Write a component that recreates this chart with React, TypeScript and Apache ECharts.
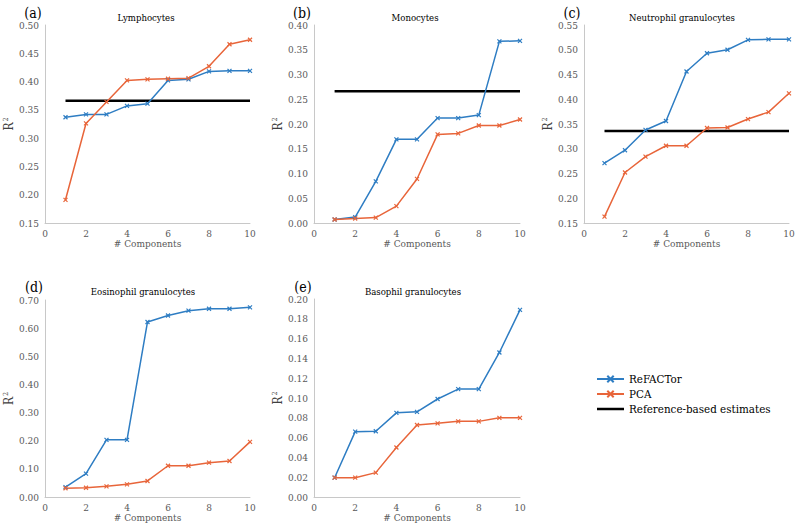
import React, { useEffect, useRef } from 'react';
import * as echarts from 'echarts';

const components = [1, 2, 3, 4, 5, 6, 7, 8, 9, 10];

const lymphRefactor = [0.337, 0.342, 0.342, 0.357, 0.361, 0.402, 0.404, 0.418, 0.419, 0.419];
const lymphPca = [0.191, 0.326, 0.364, 0.402, 0.404, 0.405, 0.406, 0.427, 0.466, 0.474];
const lymphReference = 0.366;

const monoRefactor = [0.007, 0.012, 0.084, 0.169, 0.169, 0.212, 0.212, 0.218, 0.367, 0.368];
const monoPca = [0.007, 0.009, 0.011, 0.034, 0.089, 0.179, 0.181, 0.197, 0.197, 0.209];
const monoReference = 0.266;

const neutroRefactor = [0.271, 0.297, 0.338, 0.356, 0.456, 0.493, 0.5, 0.52, 0.521, 0.521];
const neutroPca = [0.163, 0.252, 0.284, 0.306, 0.306, 0.342, 0.343, 0.36, 0.374, 0.412];
const neutroReference = 0.336;

const eosRefactor = [0.035, 0.083, 0.203, 0.203, 0.622, 0.645, 0.662, 0.669, 0.669, 0.674];
const eosPca = [0.031, 0.033, 0.038, 0.045, 0.057, 0.111, 0.111, 0.122, 0.128, 0.196];

const basoRefactor = [0.0195, 0.066, 0.0664, 0.085, 0.086, 0.099, 0.109, 0.109, 0.146, 0.189];
const basoPca = [0.0195, 0.0195, 0.0246, 0.05, 0.0727, 0.0744, 0.0764, 0.0764, 0.08, 0.08];

const panelLetters = ['(a)', '(b)', '(c)', '(d)', '(e)'];
const panelTitles = ['Lymphocytes', 'Monocytes', 'Neutrophil granulocytes', 'Eosinophil granulocytes', 'Basophil granulocytes'];
const yMins = [0.15, 0, 0.15, 0, 0];
const yMaxs = [0.5, 0.4, 0.55, 0.7, 0.2];
const yIntervals = [0.05, 0.05, 0.05, 0.1, 0.02];

const seriesNames = ['ReFACTor', 'PCA', 'Reference-based estimates'];

const FONT = "'DejaVu Serif Condensed', 'DejaVu Serif', serif";
const BLUE = '#2E7DC3';
const ORANGE = '#E8653A';
const MARK = 'path://M0,0L10,10M0,10L10,0';

const grids = [
  { left: 45, top: 25, width: 205, height: 198 },
  { left: 314, top: 25, width: 206, height: 198 },
  { left: 584, top: 25, width: 205, height: 198 },
  { left: 45, top: 300, width: 205, height: 197 },
  { left: 314, top: 299, width: 206, height: 198 },
];
const letterPos = [
  [33, 13], [302, 13], [572, 13], [34, 287], [303, 287],
];
const titlePos = [
  [146, 17], [415, 17], [682, 17], [143, 291], [413, 291],
];

export default function App() {
  const ref = useRef<HTMLDivElement>(null);
  useEffect(() => {
    document.body.style.margin = '0';
    const chart = echarts.init(ref.current!, null, { renderer: 'svg' });

    const refactorData = [lymphRefactor, monoRefactor, neutroRefactor, eosRefactor, basoRefactor];
    const pcaData = [lymphPca, monoPca, neutroPca, eosPca, basoPca];
    const referenceData: (number | null)[] = [lymphReference, monoReference, neutroReference, null, null];

    const xAxis: any[] = [];
    const yAxis: any[] = [];
    const series: any[] = [];
    const graphic: any[] = [];

    grids.forEach((g, i) => {
      xAxis.push({
        type: 'value',
        gridIndex: i,
        min: 0,
        max: 10,
        interval: 2,
        name: '# Components',
        nameLocation: 'middle',
        nameGap: 15,
        nameTextStyle: { fontFamily: FONT, fontSize: 10, color: '#595959' },
        axisLine: { show: true, lineStyle: { color: '#c8c8c8', width: 1 } },
        axisTick: { show: false },
        splitLine: { show: false },
        axisLabel: { fontFamily: FONT, fontSize: 10, color: '#595959', margin: 5 },
      });
      yAxis.push({
        type: 'value',
        gridIndex: i,
        min: yMins[i],
        max: yMaxs[i],
        interval: yIntervals[i],
        name: '{r|R}{s|2}',
        nameLocation: 'middle',
        nameGap: 21,
        nameRotate: 90,
        nameTextStyle: {
          rich: {
            r: { fontFamily: FONT, fontSize: 12, color: '#404040' },
            s: { fontFamily: FONT, fontSize: 7, color: '#404040', verticalAlign: 'top', padding: [0, 0, 6, 1] },
          },
        },
        axisLine: { show: true, lineStyle: { color: '#c8c8c8', width: 1 } },
        axisTick: { show: false },
        splitLine: { show: false },
        axisLabel: {
          fontFamily: FONT,
          fontSize: 10,
          color: '#595959',
          margin: 6,
          formatter: (v: number) => v.toFixed(2),
        },
      });
      series.push({
        name: seriesNames[0],
        type: 'line',
        xAxisIndex: i,
        yAxisIndex: i,
        data: components.map((c, k) => [c, refactorData[i][k]]),
        symbol: MARK,
        symbolSize: 4,
        lineStyle: { color: BLUE, width: 1.5 },
        itemStyle: { color: BLUE, borderColor: BLUE, borderWidth: 1.2 },
        z: 3,
      });
      series.push({
        name: seriesNames[1],
        type: 'line',
        xAxisIndex: i,
        yAxisIndex: i,
        data: components.map((c, k) => [c, pcaData[i][k]]),
        symbol: MARK,
        symbolSize: 4,
        lineStyle: { color: ORANGE, width: 1.5 },
        itemStyle: { color: ORANGE, borderColor: ORANGE, borderWidth: 1.2 },
        z: 3,
      });
      const rv = referenceData[i];
      series.push({
        name: seriesNames[2],
        type: 'line',
        xAxisIndex: i,
        yAxisIndex: i,
        data: rv === null ? [] : [[components[0], rv], [components[components.length - 1], rv]],
        symbol: 'none',
        lineStyle: { color: '#000000', width: 2.5 },
        itemStyle: { color: '#000000' },
        z: 2,
      });
      graphic.push({
        type: 'text',
        x: letterPos[i][0],
        y: letterPos[i][1],
        style: {
          text: panelLetters[i],
          fontFamily: FONT,
          fontSize: 14,
          fill: '#000',
          textAlign: 'center',
          textVerticalAlign: 'middle',
        },
      });
      graphic.push({
        type: 'text',
        x: titlePos[i][0],
        y: titlePos[i][1],
        style: {
          text: panelTitles[i],
          fontFamily: FONT,
          fontSize: 9.5,
          fill: '#000',
          textAlign: 'center',
          textVerticalAlign: 'middle',
        },
      });
    });

    chart.setOption({
      animation: false,
      backgroundColor: '#ffffff',
      grid: grids.map((g) => ({ ...g, containLabel: false })),
      xAxis,
      yAxis,
      series,
      graphic,
      legend: {
        data: [
          { name: seriesNames[0] },
          { name: seriesNames[1] },
          { name: seriesNames[2], icon: 'path://M0,0H27V2.5H0Z' },
        ],
        orient: 'vertical',
        left: 591,
        top: 367,
        itemWidth: 27,
        itemHeight: 8,
        itemGap: 1,
        textStyle: { fontFamily: FONT, fontSize: 11.5, color: '#000', lineHeight: 14 },
      },
    });
    return () => chart.dispose();
  }, []);
  return <div ref={ref} style={{ width: 800, height: 531 }} />;
}
